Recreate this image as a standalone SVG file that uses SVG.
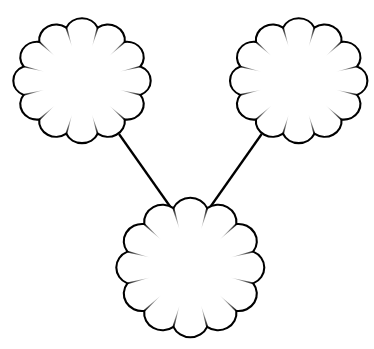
<svg xmlns="http://www.w3.org/2000/svg" xmlns:xlink="http://www.w3.org/1999/xlink" width="374" height="349" viewBox="0 0 374 349">
<style>
.outline{fill:#ffffff;stroke:#000000;stroke-width:2.1;vector-effect:non-scaling-stroke;stroke-linejoin:miter}
.wedge{fill:url(#fade)}
.edge{stroke:#000000;stroke-width:2.3;fill:none}
</style>
<defs>
<radialGradient id="fade" gradientUnits="userSpaceOnUse" cx="0" cy="0" r="88">
<stop offset="0.62" stop-color="#000" stop-opacity="0"/>
<stop offset="1" stop-color="#000" stop-opacity="0.9"/>
</radialGradient>
<polygon id="w" class="wedge" points="-1.4,-88 1.4,-88 0,-56"/>
<g id="cloud">
<path class="outline" d="M -22.78 -85 A 24.8 24.8 0 0 1 22.78 -85 A 24.8 24.8 0 0 1 62.23 -62.23 A 24.8 24.8 0 0 1 85 -22.78 A 24.8 24.8 0 0 1 85 22.78 A 24.8 24.8 0 0 1 62.23 62.23 A 24.8 24.8 0 0 1 22.78 85 A 24.8 24.8 0 0 1 -22.78 85 A 24.8 24.8 0 0 1 -62.23 62.23 A 24.8 24.8 0 0 1 -85 22.78 A 24.8 24.8 0 0 1 -85 -22.78 A 24.8 24.8 0 0 1 -62.23 -62.23 A 24.8 24.8 0 0 1 -22.78 -85 Z"/>
<use xlink:href="#w" transform="rotate(15)"/>
<use xlink:href="#w" transform="rotate(45)"/>
<use xlink:href="#w" transform="rotate(75)"/>
<use xlink:href="#w" transform="rotate(105)"/>
<use xlink:href="#w" transform="rotate(135)"/>
<use xlink:href="#w" transform="rotate(165)"/>
<use xlink:href="#w" transform="rotate(195)"/>
<use xlink:href="#w" transform="rotate(225)"/>
<use xlink:href="#w" transform="rotate(255)"/>
<use xlink:href="#w" transform="rotate(285)"/>
<use xlink:href="#w" transform="rotate(315)"/>
<use xlink:href="#w" transform="rotate(345)"/>
</g>
</defs>
<g id="connectors">
<line class="edge" x1="119" y1="134" x2="171.5" y2="208.5"/>
<line class="edge" x1="261.7" y1="134" x2="209.2" y2="208.5"/>
</g>
<g id="node-top-left"><use xlink:href="#cloud" transform="translate(82 80.7) scale(0.687 0.624)"/></g>
<g id="node-top-right"><use xlink:href="#cloud" transform="translate(298.7 80.7) scale(0.687 0.624)"/></g>
<g id="node-bottom"><use xlink:href="#cloud" transform="translate(190.3 267.5) scale(0.74 0.698)"/></g>
</svg>
